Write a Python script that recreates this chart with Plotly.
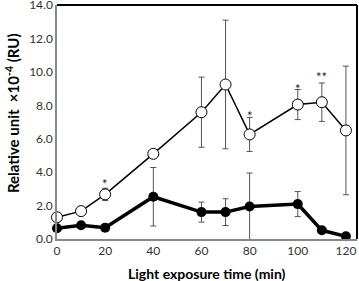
import plotly.graph_objects as go

time_min = [0, 10, 20, 40, 60, 70, 80, 100, 110, 120]
open_vals = [1.30, 1.67, 2.67, 5.10, 7.59, 9.25, 6.26, 8.05, 8.19, 6.50]
open_err = [0, 0, 0.37, 0, 2.10, 3.85, 1.02, 0.90, 1.15, 3.85]
filled_vals = [0.64, 0.82, 0.68, 2.53, 1.61, 1.61, 1.95, 2.09, 0.52, 0.16]
filled_err = [0, 0, 0, 1.75, 0.60, 0.80, 2.00, 0.75, 0, 0]
star_x = [20, 80, 100, 110]
star_y = [3.32, 7.37, 9.0, 9.67]
star_text = ["*", "*", "*", "**"]
x_ticks = [0, 20, 40, 60, 80, 100, 120]
y_ticks = [0, 2, 4, 6, 8, 10, 12, 14]

FONT = "Lato"

fig = go.Figure()
fig.add_trace(go.Scatter(
    x=time_min, y=open_vals, mode="lines+markers", cliponaxis=False,
    line=dict(color="black", width=1.5),
    marker=dict(symbol="circle", size=11, color="white", line=dict(color="black", width=1)),
    error_y=dict(type="data", array=open_err, visible=True, color="#555555", thickness=1, width=3),
    showlegend=False))
fig.add_trace(go.Scatter(
    x=time_min, y=filled_vals, mode="lines+markers", cliponaxis=False,
    line=dict(color="black", width=3.5),
    marker=dict(symbol="circle", size=10, color="black"),
    error_y=dict(type="data", array=filled_err, visible=True, color="#555555", thickness=1, width=3),
    showlegend=False))

for sx, sy, st in zip(star_x, star_y, star_text):
    fig.add_annotation(x=sx, y=sy, text=st, showarrow=False, yanchor="middle",
                       font=dict(family=FONT, size=13, color="#222"))

# axis titles
fig.add_annotation(xref="paper", yref="paper", x=0.5, y=0, yshift=-34, yanchor="middle",
                   text="<b>Light exposure time (min)</b>", showarrow=False,
                   font=dict(family=FONT, size=14, color="black"))
fig.add_annotation(xref="paper", yref="paper", x=0, xshift=-45, y=0.538, xanchor="center",
                   textangle=-90, text="<b>Relative unit  ×10<sup>-4</sup> (RU)</b>", showarrow=False,
                   font=dict(family=FONT, size=15, color="black"))

# black frame on top and right
fig.add_shape(type="line", xref="paper", yref="paper", x0=0, x1=1, y0=1, y1=1,
              line=dict(color="black", width=2))
fig.add_shape(type="line", xref="paper", yref="paper", x0=1, x1=1, y0=0, y1=1,
              line=dict(color="black", width=2))

fig.update_layout(
    width=359, height=281,
    margin=dict(l=57, r=2, t=5, b=42),
    plot_bgcolor="white", paper_bgcolor="white",
    font=dict(family=FONT, color="#333"),
    xaxis=dict(range=[0, 124.6], tickvals=x_ticks, showgrid=False, zeroline=False,
               showline=True, linecolor="#888888", linewidth=1.5, ticks="", automargin=False,
               ticklabeloverflow="allow",
               tickfont=dict(family=FONT, size=12, color="#333")),
    yaxis=dict(range=[0, 14.01], tickvals=y_ticks, tickformat=".1f", showgrid=False, zeroline=False,
               showline=True, linecolor="#888888", linewidth=1.5, ticks="", automargin=False,
               ticklabeloverflow="allow",
               tickfont=dict(family=FONT, size=12, color="#333")),
)
fig.write_html("out.html", config={"displayModeBar": False},
               post_script="document.body.style.margin='0';document.body.style.padding='0';")
